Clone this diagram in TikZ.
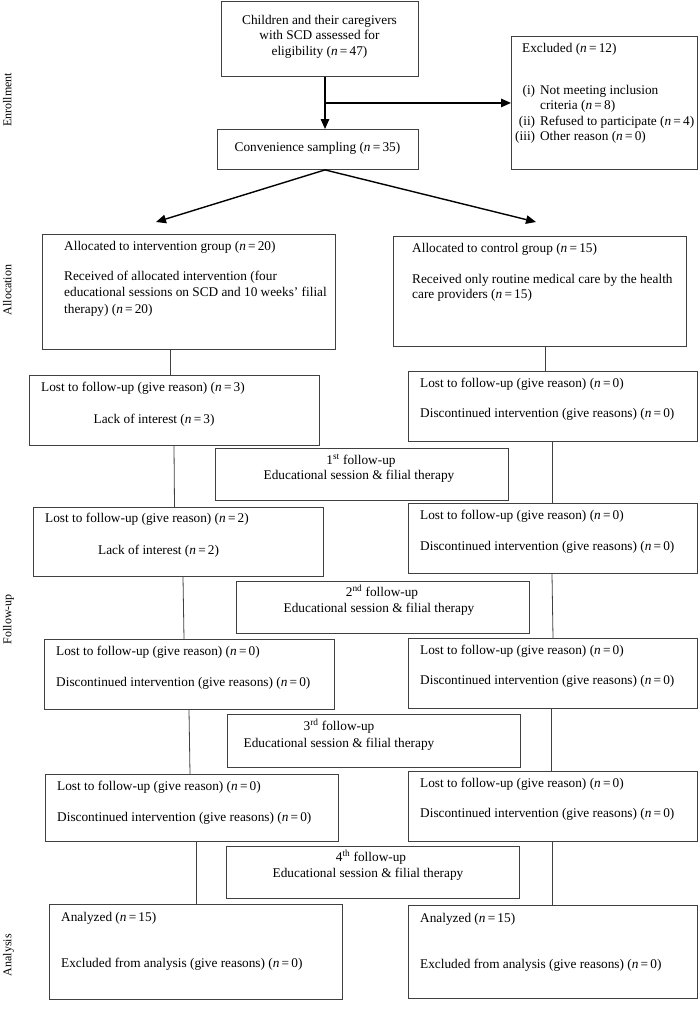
\documentclass[tikz,border=0pt]{standalone}
\usepackage{fontspec}
\setmainfont{Liberation Serif}
\usetikzlibrary{arrows.meta}
\newcommand{\nval}[1]{(\textit{n}\,=\,#1)}

\begin{document}
\begin{tikzpicture}[x=1pt,y=-1pt,
  every node/.style={inner sep=0pt,font=\fontsize{13.3}{15.3}\selectfont},
  box/.style={draw=black!75,line width=0.9pt,anchor=north west},
  txt/.style={anchor=mid west},
  ctxt/.style={anchor=mid},
  side/.style={rotate=90,anchor=mid,font=\fontsize{12}{14}\selectfont},
  link/.style={draw=black!75,line width=0.8pt},
  arr/.style={line width=1.4pt,-{Triangle[length=10pt,width=8.5pt]}}]
\useasboundingbox (0,0) rectangle (698,1012);
% phase labels
\node[side] (enr) at (9,100) {Enrollment};
\node[side] (alc) at (9,290) {Allocation};
\node[side] (fol) at (9,619) {Follow-up};
\node[side] (ana) at (9,955) {Analysis};
% enrollment
\node[box,minimum width=197pt,minimum height=75pt] (elig) at (221,1) {};
\node[ctxt] (elig1) at (319.5,22) {Children and their caregivers};
\node[ctxt] (elig2) at (319.5,37.5) {with SCD assessed for};
\node[ctxt] (elig3) at (319.5,53) {eligibility \nval{47}};
\node[box,minimum width=186pt,minimum height=133pt] (excl) at (511,36) {};
\node[txt] (excl1) at (522,50.5) {Excluded \nval{12}};
\node[anchor=north west] (excl2) at (515,83.5) {\begin{tabular}{@{}r@{\hspace{5pt}}l@{}}
(i) & Not meeting inclusion\\
 & criteria \nval{8}\\
(ii) & Refused to participate \nval{4}\\
(iii) & Other reason \nval{0}
\end{tabular}};
\node[box,minimum width=201pt,minimum height=40pt] (conv) at (217,129) {};
\node[ctxt] (conv1) at (317.5,149) {Convenience sampling \nval{35}};
\coordinate (split) at (excl.west -| 325,0);
\coordinate (fork) at (conv.south -| 325,0);
\coordinate (goint) at (156,222);
\coordinate (goctl) at (536,222);
\draw[arr] (elig.south -| 325,0) -- (conv.north -| 325,0);
\draw[arr] (split) -- (excl.west);
\draw[arr] (fork) -- (goint);
\draw[arr] (fork) -- (goctl);
% allocation
\node[box,minimum width=293pt,minimum height=115pt] (interv) at (42,234) {};
\node[txt] (interv1) at (64,248) {Allocated to intervention group \nval{20}};
\node[txt] (interv2) at (64,278) {Received of allocated intervention (four};
\node[txt] (interv3) at (64,294.5) {educational sessions on SCD and 10 weeks’ filial};
\node[txt] (interv4) at (64,311) {therapy) \nval{20}};
\node[box,minimum width=293pt,minimum height=110pt] (ctrl) at (393,236) {};
\node[txt] (ctrl1) at (412,250) {Allocated to control group \nval{15}};
\node[txt] (ctrl2) at (412,281) {Received only routine medical care by the health};
\node[txt] (ctrl3) at (412,296.5) {care providers \nval{15}};
% follow-up, intervention side
\node[box,minimum width=290pt,minimum height=70pt] (lossA) at (29,375) {};
\node[txt] (lossA1) at (41,389) {Lost to follow-up (give reason) \nval{3}};
\node[txt] (lossA2) at (93.5,421) {Lack of interest \nval{3}};
\node[box,minimum width=290pt,minimum height=69pt] (lossB) at (33,507) {};
\node[txt] (lossB1) at (45,520) {Lost to follow-up (give reason) \nval{2}};
\node[txt] (lossB2) at (98,552) {Lack of interest \nval{2}};
\node[box,minimum width=289.5pt,minimum height=70pt] (lossC) at (44,639) {};
\node[txt] (lossC1) at (56,653) {Lost to follow-up (give reason) \nval{0}};
\node[txt] (lossC2) at (56,684) {Discontinued intervention (give reasons) \nval{0}};
\node[box,minimum width=293pt,minimum height=67pt] (lossD) at (45,774) {};
\node[txt] (lossD1) at (57,788) {Lost to follow-up (give reason) \nval{0}};
\node[txt] (lossD2) at (57,819) {Discontinued intervention (give reasons) \nval{0}};
% follow-up, control side
\node[box,minimum width=289pt,minimum height=70pt] (ctlA) at (408,371) {};
\node[txt] (ctlA1) at (420,385) {Lost to follow-up (give reason) \nval{0}};
\node[txt] (ctlA2) at (420,415) {Discontinued intervention (give reasons) \nval{0}};
\node[box,minimum width=289pt,minimum height=70pt] (ctlB) at (408,503) {};
\node[txt] (ctlB1) at (420,517) {Lost to follow-up (give reason) \nval{0}};
\node[txt] (ctlB2) at (420,548) {Discontinued intervention (give reasons) \nval{0}};
\node[box,minimum width=289pt,minimum height=70pt] (ctlC) at (408,638) {};
\node[txt] (ctlC1) at (420,652) {Lost to follow-up (give reason) \nval{0}};
\node[txt] (ctlC2) at (420,682) {Discontinued intervention (give reasons) \nval{0}};
\node[box,minimum width=289pt,minimum height=70pt] (ctlD) at (408,771) {};
\node[txt] (ctlD1) at (420,785) {Lost to follow-up (give reason) \nval{0}};
\node[txt] (ctlD2) at (420,815) {Discontinued intervention (give reasons) \nval{0}};
% sessions
\node[box,minimum width=293pt,minimum height=52pt] (fuA) at (215,448) {};
\node[ctxt] (fuA1) at (361,462) {1\textsuperscript{st} follow-up};
\node[ctxt] (fuA2) at (359,477) {Educational session \& filial therapy};
\node[box,minimum width=293.5pt,minimum height=52pt] (fuB) at (235.5,581) {};
\node[ctxt] (fuB1) at (382,594) {2\textsuperscript{nd} follow-up};
\node[ctxt] (fuB2) at (379,610) {Educational session \& filial therapy};
\node[box,minimum width=293pt,minimum height=53pt] (fuC) at (227,714) {};
\node[ctxt] (fuC1) at (339,728) {3\textsuperscript{rd} follow-up};
\node[ctxt] (fuC2) at (339,745) {Educational session \& filial therapy};
\node[box,minimum width=293pt,minimum height=52pt] (fuD) at (226,846) {};
\node[ctxt] (fuD1) at (371,859) {4\textsuperscript{th} follow-up};
\node[ctxt] (fuD2) at (368,875) {Educational session \& filial therapy};
% analysis
\node[box,minimum width=293pt,minimum height=95pt] (anaA) at (49,904) {};
\node[txt] (anaA1) at (61,919) {Analyzed \nval{15}};
\node[txt] (anaA2) at (61,965) {Excluded from analysis (give reasons) \nval{0}};
\node[box,minimum width=289pt,minimum height=93pt] (anaB) at (408,905) {};
\node[txt] (anaB1) at (420,920) {Analyzed \nval{15}};
\node[txt] (anaB2) at (420,966) {Excluded from analysis (give reasons) \nval{0}};
% links
\draw[link] (interv.south -| 170,0) -- (lossA.north -| 170,0);
\draw[link] (lossA.south -| 174,0) -- (lossB.north -| 174.5,0);
\draw[link] (lossB.south -| 183,0) -- (lossC.north -| 184,0);
\draw[link] (lossC.south -| 189,0) -- (lossD.north -| 190,0);
\draw[link] (lossD.south -| 196,0) -- (anaA.north -| 196,0);
\draw[link] (ctrl.south -| 545,0) -- (ctlA.north -| 545,0);
\draw[link] (ctlA.south -| 552,0) -- (ctlB.north -| 552,0);
\draw[link] (ctlB.south -| 552,0) -- (ctlC.north -| 553,0);
\draw[link] (ctlC.south -| 551,0) -- (ctlD.north -| 551,0);
\draw[link] (ctlD.south -| 552,0) -- (anaB.north -| 552,0);
\end{tikzpicture}
\end{document}
